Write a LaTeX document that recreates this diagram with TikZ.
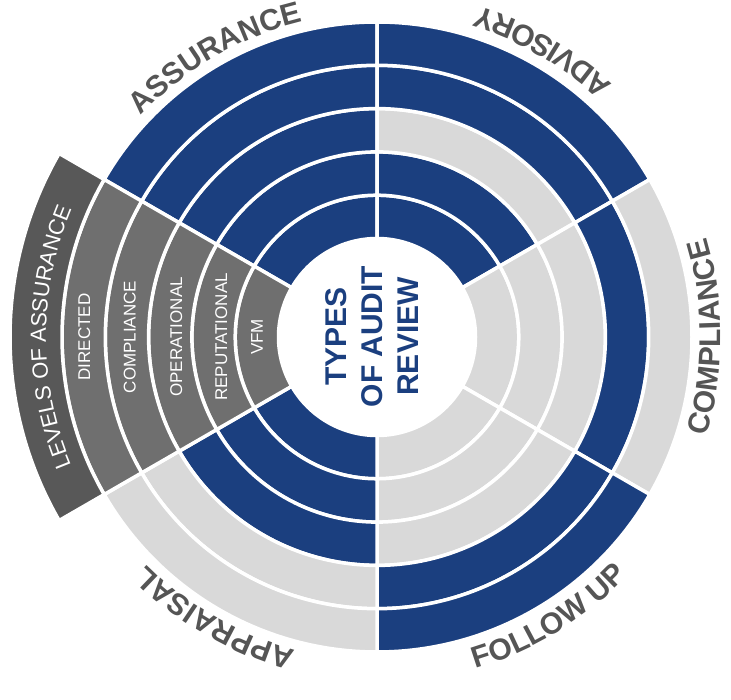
\documentclass[tikz,border=0pt]{standalone}
\usepackage{fontspec}
\setmainfont{Liberation Sans}
\usetikzlibrary{decorations.text}
\definecolor{ringblue}{HTML}{1B3F7F}
\definecolor{ringgray}{HTML}{D9D9D9}
\definecolor{lvlgray}{HTML}{6F6F6F}
\definecolor{lvldark}{HTML}{585858}
\definecolor{labgray}{HTML}{555555}
\newcommand\annsec[5]{\fill[#1,draw=white,line width=3.5pt] (#2:#4pt) arc[start angle=#2,end angle=#3,radius=#4pt] -- (#3:#5pt) arc[start angle=#3,end angle=#2,radius=#5pt] -- cycle;}
\newcommand\outerfnt{\fontsize{30}{30}\selectfont\bfseries}
\tikzset{
  inlab/.style={rotate=90,text=white,font=\fontsize{17}{17}\selectfont,inner sep=0pt,text height=12.2pt,text depth=0pt},
  outlab/.style={decorate,decoration={text along path,text align=center,text color=labgray,text={|\outerfnt|#1}}}
}
\begin{document}
\begin{tikzpicture}[x=1pt,y=1pt]
\useasboundingbox (0,0) rectangle (731,700);
\begin{scope}[shift={(377,363)}]
% ASSURANCE 90-150
\annsec{ringblue}{90}{150}{98.5}{141.8}
\annsec{ringblue}{90}{150}{141.8}{185.1}
\annsec{ringblue}{90}{150}{185.1}{228.4}
\annsec{ringblue}{90}{150}{228.4}{271.7}
\annsec{ringblue}{90}{150}{271.7}{315}
% ADVISORY 30-90
\annsec{ringblue}{30}{90}{98.5}{141.8}
\annsec{ringblue}{30}{90}{141.8}{185.1}
\annsec{ringgray}{30}{90}{185.1}{228.4}
\annsec{ringblue}{30}{90}{228.4}{271.7}
\annsec{ringblue}{30}{90}{271.7}{315}
% COMPLIANCE -30-30
\annsec{ringgray}{-30}{30}{98.5}{141.8}
\annsec{ringgray}{-30}{30}{141.8}{185.1}
\annsec{ringgray}{-30}{30}{185.1}{228.4}
\annsec{ringblue}{-30}{30}{228.4}{271.7}
\annsec{ringgray}{-30}{30}{271.7}{315}
% FOLLOW UP 270-330
\annsec{ringgray}{270}{330}{98.5}{141.8}
\annsec{ringgray}{270}{330}{141.8}{185.1}
\annsec{ringgray}{270}{330}{185.1}{228.4}
\annsec{ringblue}{270}{330}{228.4}{271.7}
\annsec{ringblue}{270}{330}{271.7}{315}
% APPRAISAL 210-270
\annsec{ringblue}{210}{270}{98.5}{141.8}
\annsec{ringblue}{210}{270}{141.8}{185.1}
\annsec{ringblue}{210}{270}{185.1}{228.4}
\annsec{ringgray}{210}{270}{228.4}{271.7}
\annsec{ringgray}{210}{270}{271.7}{315}
% LEVELS 150-210
\annsec{lvlgray}{150}{210}{98.5}{141.8}
\annsec{lvlgray}{150}{210}{141.8}{185.1}
\annsec{lvlgray}{150}{210}{185.1}{228.4}
\annsec{lvlgray}{150}{210}{228.4}{271.7}
\annsec{lvlgray}{150}{210}{271.7}{315}
\annsec{lvldark}{150}{210}{315}{367}
% outer labels
\path[outlab=ASSURANCE] (150:323.5pt) arc[start angle=150,end angle=90,radius=323.5pt];
\path[outlab=ADVISORY] (30:345.5pt) arc[start angle=30,end angle=90,radius=345.5pt];
\path[outlab=COMPLIANCE] (-30:344pt) arc[start angle=-30,end angle=30,radius=344pt];
\path[outlab=FOLLOW{ }UP] (271.5:346pt) arc[start angle=271.5,end angle=331.5,radius=346pt];
\path[outlab=APPRAISAL] (270:323.5pt) arc[start angle=270,end angle=210,radius=323.5pt];
\path[decorate,decoration={text along path,text align=center,text color=white,text={|\fontsize{22}{22}\selectfont|LEVELS OF ASSURANCE}}] (210:331pt) arc[start angle=210,end angle=150,radius=331pt];
\end{scope}
% inner labels
\node[inlab] (dir) at (84,363) {DIRECTED};
\node[inlab] (cmp) at (129.5,363) {COMPLIANCE};
\node[inlab] (opr) at (176,363) {OPERATIONAL};
\node[inlab] (rep) at (221,363) {REPUTATIONAL};
\node[inlab] (vfm) at (256.7,363) {VFM};
% centre
\node[rotate=90,align=center,text=ringblue,inner sep=0pt,font=\fontsize{30}{36}\selectfont\bfseries] (ctr) at (372.5,363.5) {TYPES\\OF AUDIT\\REVIEW};
\end{tikzpicture}
\end{document}
